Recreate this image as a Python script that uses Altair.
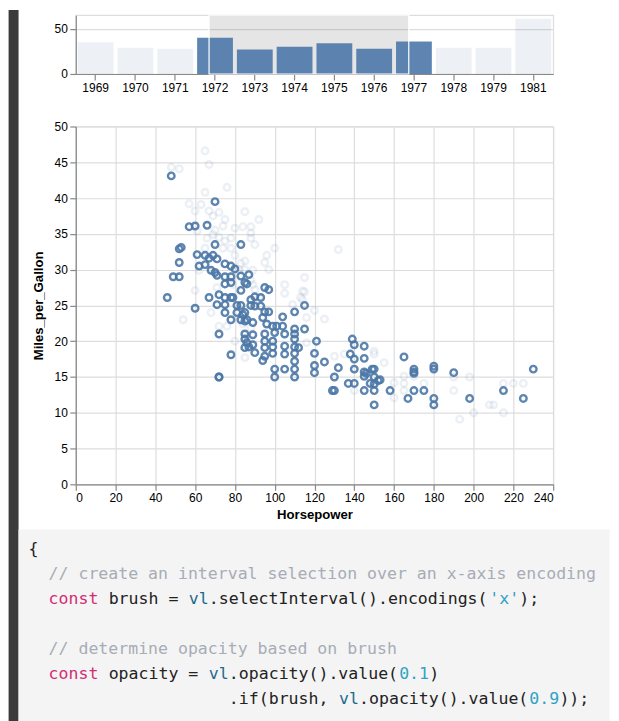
import altair as alt
import pandas as pd

# ---------------- data ----------------
years = ["1969", "1970", "1971", "1972", "1973", "1974", "1975", "1976",
         "1977", "1978", "1979", "1981"]
counts = [35, 29, 28, 40, 27, 30, 34, 28, 36, 29, 29, 61]
selected_years = ["1972", "1973", "1974", "1975", "1976", "1977"]
# brush extent, in band steps of the year axis (selection state)
brush_extent = [3.35, 8.37]

# cars inside the brushed years (opacity 0.9)
hp_in = [48, 70, 57, 60, 66, 70, 52, 53, 52, 49, 52, 46, 61, 65, 62, 67, 69, 71,
         65, 68, 70, 71, 75, 78, 80, 75, 78, 83, 75, 78, 85, 87, 83, 86, 83, 95,
         97, 72, 67, 75, 78, 79, 71, 75, 81, 60, 75, 81, 85, 78, 83, 86, 72, 85,
         85, 85, 86, 78, 72, 72, 88, 90, 93, 88, 90, 93, 95, 97, 83, 84, 89, 85,
         94, 96, 99, 101, 104, 104, 110, 115, 110, 110, 110, 115, 89, 95, 95, 100,
         99, 105, 87, 89, 90, 95, 95, 94, 99, 99, 105, 105, 110, 110, 110, 110,
         110, 112, 100, 100, 105, 121, 120, 120, 120, 125, 130, 132, 129, 130,
         137, 140, 139, 140, 138, 140, 140, 145, 145, 145, 145, 146, 149, 150,
         150, 152, 148, 150, 145, 150, 150, 158, 153, 165, 170, 170, 170, 170,
         167, 175, 180, 180, 180, 180, 190, 198, 215, 225, 230]
mpg_in = [43.1, 39.5, 36.0, 36.1, 36.2, 33.5, 32.9, 33.1, 31.0, 29.0, 29.0, 26.1,
          32.1, 32.0, 30.5, 31.6, 32.0, 31.5, 30.7, 29.9, 29.6, 29.2, 30.8, 30.5,
          30.1, 29.0, 29.0, 29.1, 28.0, 28.2, 28.2, 29.3, 33.5, 28.0, 27.1, 27.5,
          27.2, 26.5, 26.1, 26.1, 26.1, 26.1, 25.1, 25.1, 25.0, 24.6, 24.0, 24.0,
          24.0, 23.0, 23.0, 23.0, 21.0, 21.0, 20.3, 19.1, 19.8, 18.1, 15.0, 15.0,
          25.8, 26.2, 26.1, 25.0, 24.9, 24.9, 24.1, 24.1, 25.0, 23.7, 22.6, 22.8,
          23.3, 22.4, 22.1, 22.1, 23.4, 22.1, 24.1, 25.0, 21.7, 21.0, 20.3, 21.7,
          20.9, 21.0, 20.0, 21.2, 20.0, 21.0, 19.2, 19.5, 18.4, 19.1, 17.9, 17.3,
          19.2, 18.3, 19.3, 18.2, 19.2, 18.3, 17.2, 16.1, 15.0, 19.1, 16.1, 15.0,
          16.1, 20.0, 18.3, 16.6, 15.6, 17.1, 15.0, 16.3, 13.1, 13.1, 14.1, 14.1,
          20.3, 19.5, 18.2, 17.5, 16.1, 19.3, 17.6, 15.7, 15.1, 15.5, 16.1, 16.1,
          15.0, 14.5, 14.1, 14.0, 13.1, 13.1, 11.1, 13.1, 14.6, 17.8, 16.1, 15.7,
          15.5, 13.1, 12.0, 13.1, 16.5, 16.1, 12.0, 11.1, 15.6, 12.0, 13.1, 12.0,
          16.1]

# cars outside the brushed years (opacity 0.1)
hp_out = [65, 67, 48, 52, 76, 65, 57, 63, 60, 67, 85, 92, 74, 80, 84, 88, 61, 66,
          69, 75, 74, 78, 88, 88, 90, 100, 96, 132, 83, 89, 85, 85, 62, 60, 71,
          79, 89, 90, 105, 105, 115, 115, 113, 109, 54, 72, 76, 85, 114, 114, 120,
          116, 125, 130, 135, 150, 150, 155, 160, 140, 160, 165, 165, 165, 170,
          175, 190, 190, 198, 193, 200, 208, 210, 215, 215, 220, 225,
          69, 72, 75, 70, 72, 78, 80, 65, 95, 97, 92, 84, 88, 116, 82, 88, 68, 80]
mpg_out = [46.6, 44.7, 44.3, 44.1, 41.5, 40.8, 39.2, 39.1, 38.2, 38.2, 38.1, 37.0,
           36.1, 35.8, 36.0, 36.0, 35.4, 34.4, 34.9, 34.0, 33.0, 34.4, 35.1, 34.4,
           33.5, 33.0, 32.0, 32.8, 30.9, 29.9, 31.2, 30.0, 29.9, 27.1, 27.5, 27.9,
           27.9, 27.2, 27.9, 26.7, 28.9, 26.9, 26.1, 25.1, 23.0, 22.1, 22.1, 17.7,
           27.0, 25.8, 24.3, 23.3, 23.1, 17.9, 18.2, 18.6, 18.2, 17.0, 14.2, 13.1,
           12.1, 15.1, 14.1, 13.1, 15.1, 14.1, 15.0, 13.1, 15.0, 9.1, 10.0, 11.1,
           11.1, 14.1, 10.0, 14.1, 14.1,
           37.5, 38.0, 37.0, 35.5, 34.5, 33.0, 32.0, 33.0, 31.0, 30.0, 26.0, 22.4,
           21.9, 19.8, 30.0, 28.5, 24.0, 20.0]

# code panel tokens
code_lines = [0, 1, 2, 2, 2, 2, 2, 2, 4, 5, 5, 5, 5, 5, 5, 6, 6, 6, 6, 6]
code_cols = [0, 2, 2, 8, 16, 18, 46, 49, 2, 2, 8, 18, 20, 37, 40, 20, 31, 33, 50, 53]
code_text = ["{",
             "// create an interval selection over an x-axis encoding",
             "const", "brush =", "vl", ".selectInterval().encodings(", "'x'", ");",
             "// determine opacity based on brush",
             "const", "opacity =", "vl", ".opacity().value(", "0.1", ")",
             ".if(brush,", "vl", ".opacity().value(", "0.9", "));"]
code_kind = ["plain", "comment", "keyword", "plain", "vl", "plain", "literal", "plain",
             "comment", "keyword", "plain", "vl", "plain", "literal", "plain",
             "plain", "vl", "plain", "literal", "plain"]
kind_names = ["plain", "comment", "keyword", "vl", "literal"]
kind_colors = ["#222222", "#a7acb6", "#d32c74", "#1d6a8e", "#2ea3c6"]

# ---------------- layout constants ----------------
Z = 1.2          # the reference is rendered at 120 % zoom
W = 479
BAR_H = 59
SC_H = 359
BLUE = "#4c78a8"
DARK = "#3b3b3b"
one = pd.DataFrame({"a": [0]})

# ---------------- top: bar chart with brush ----------------
bars_df = pd.DataFrame({"Year": years, "count": counts,
                        "sel": [y in selected_years for y in years]})
brush_df = pd.DataFrame({"lo": [brush_extent[0]], "hi": [brush_extent[1]]})

brush_x = alt.X("lo:Q", scale=alt.Scale(domain=[0, len(years)], nice=False, zero=False), axis=None)

brush_bg = alt.Chart(brush_df).mark_rect(fill="#333333", fillOpacity=0.125).encode(
    x=brush_x, x2="hi:Q", y=alt.value(0), y2=alt.value(BAR_H))
brush_fg = alt.Chart(brush_df).mark_rect(fill="transparent", stroke="white", strokeWidth=Z).encode(
    x=brush_x, x2="hi:Q", y=alt.value(0), y2=alt.value(BAR_H))

bars = alt.Chart(bars_df).mark_bar(color=BLUE).encode(
    x=alt.X("Year:O", sort=years, title=None,
            scale=alt.Scale(paddingInner=0.1, paddingOuter=0.05),
            axis=alt.Axis(labelAngle=0)),
    y=alt.Y("count:Q", title=None, scale=alt.Scale(domain=[0, 65], nice=False),
            axis=alt.Axis(values=[0, 50])),
    opacity=alt.condition(alt.datum.sel, alt.value(0.9), alt.value(0.1)),
)

strip = alt.Chart(one).mark_rect(color=DARK).encode(
    x=alt.value(-67.4), x2=alt.value(-57.4), y=alt.value(-5.3), y2=alt.value(712))

top = alt.layer(strip, brush_bg, bars, brush_fg).resolve_scale(x="independent").properties(
    width=W, height=BAR_H)

# ---------------- scatter ----------------
pts_df = pd.DataFrame({
    "Horsepower": hp_out + hp_in,
    "Miles_per_Gallon": mpg_out + mpg_in,
    "sel": [False] * len(hp_out) + [True] * len(hp_in),
})
scatter = alt.Chart(pts_df).mark_point(color=BLUE, strokeWidth=2 * Z, size=30 * Z * Z).encode(
    x=alt.X("Horsepower:Q", scale=alt.Scale(domain=[0, 240], nice=False),
            axis=alt.Axis(values=list(range(0, 241, 20)))),
    y=alt.Y("Miles_per_Gallon:Q", scale=alt.Scale(domain=[0, 50], nice=False),
            axis=alt.Axis(values=list(range(0, 51, 5)), titlePadding=9)),
    opacity=alt.condition(alt.datum.sel, alt.value(0.9), alt.value(0.1)),
).properties(width=W, height=SC_H)

# ---------------- code panel ----------------
code_df = pd.DataFrame({"line": code_lines, "col": code_cols, "text": code_text,
                        "kind": code_kind})
CODE_H = 190
CODE_W = 535.6
code_bg = alt.Chart(one).mark_rect(color="#f4f4f4").encode(
    x=alt.value(-57.4), x2=alt.value(CODE_W), y=alt.value(-7.3), y2=alt.value(CODE_H))
code_txt = alt.Chart(code_df).mark_text(
    font="DejaVu Sans Mono", fontSize=16.6, align="left", baseline="middle", dx=-47.4
).encode(
    x=alt.X("col:Q", scale=alt.Scale(domain=[0, 55], range=[0, 552.75]), axis=None),
    y=alt.Y("line:Q", scale=alt.Scale(domain=[0, 6], range=[12.7, 162.7]), axis=None),
    color=alt.Color("kind:N", scale=alt.Scale(domain=kind_names, range=kind_colors),
                    legend=None),
    text="text:N",
)
code = alt.layer(code_bg, code_txt).properties(
    width=CODE_W, height=CODE_H, view=alt.ViewBackground(stroke="transparent"))

chart = alt.vconcat(top, scatter, code, spacing=52.7, bounds="flush").properties(
    padding=0, background="white"
).configure(font="Liberation Sans").configure_axis(
    labelFontSize=10 * Z, titleFontSize=11 * Z, gridColor="#ddd",
    gridWidth=Z, domainWidth=Z, tickWidth=Z, tickSize=5 * Z,
    labelPadding=2 * Z, titlePadding=4 * Z,
).configure_view(strokeWidth=Z)

chart.save("out.html", embed_options={"renderer": "svg", "actions": False})
